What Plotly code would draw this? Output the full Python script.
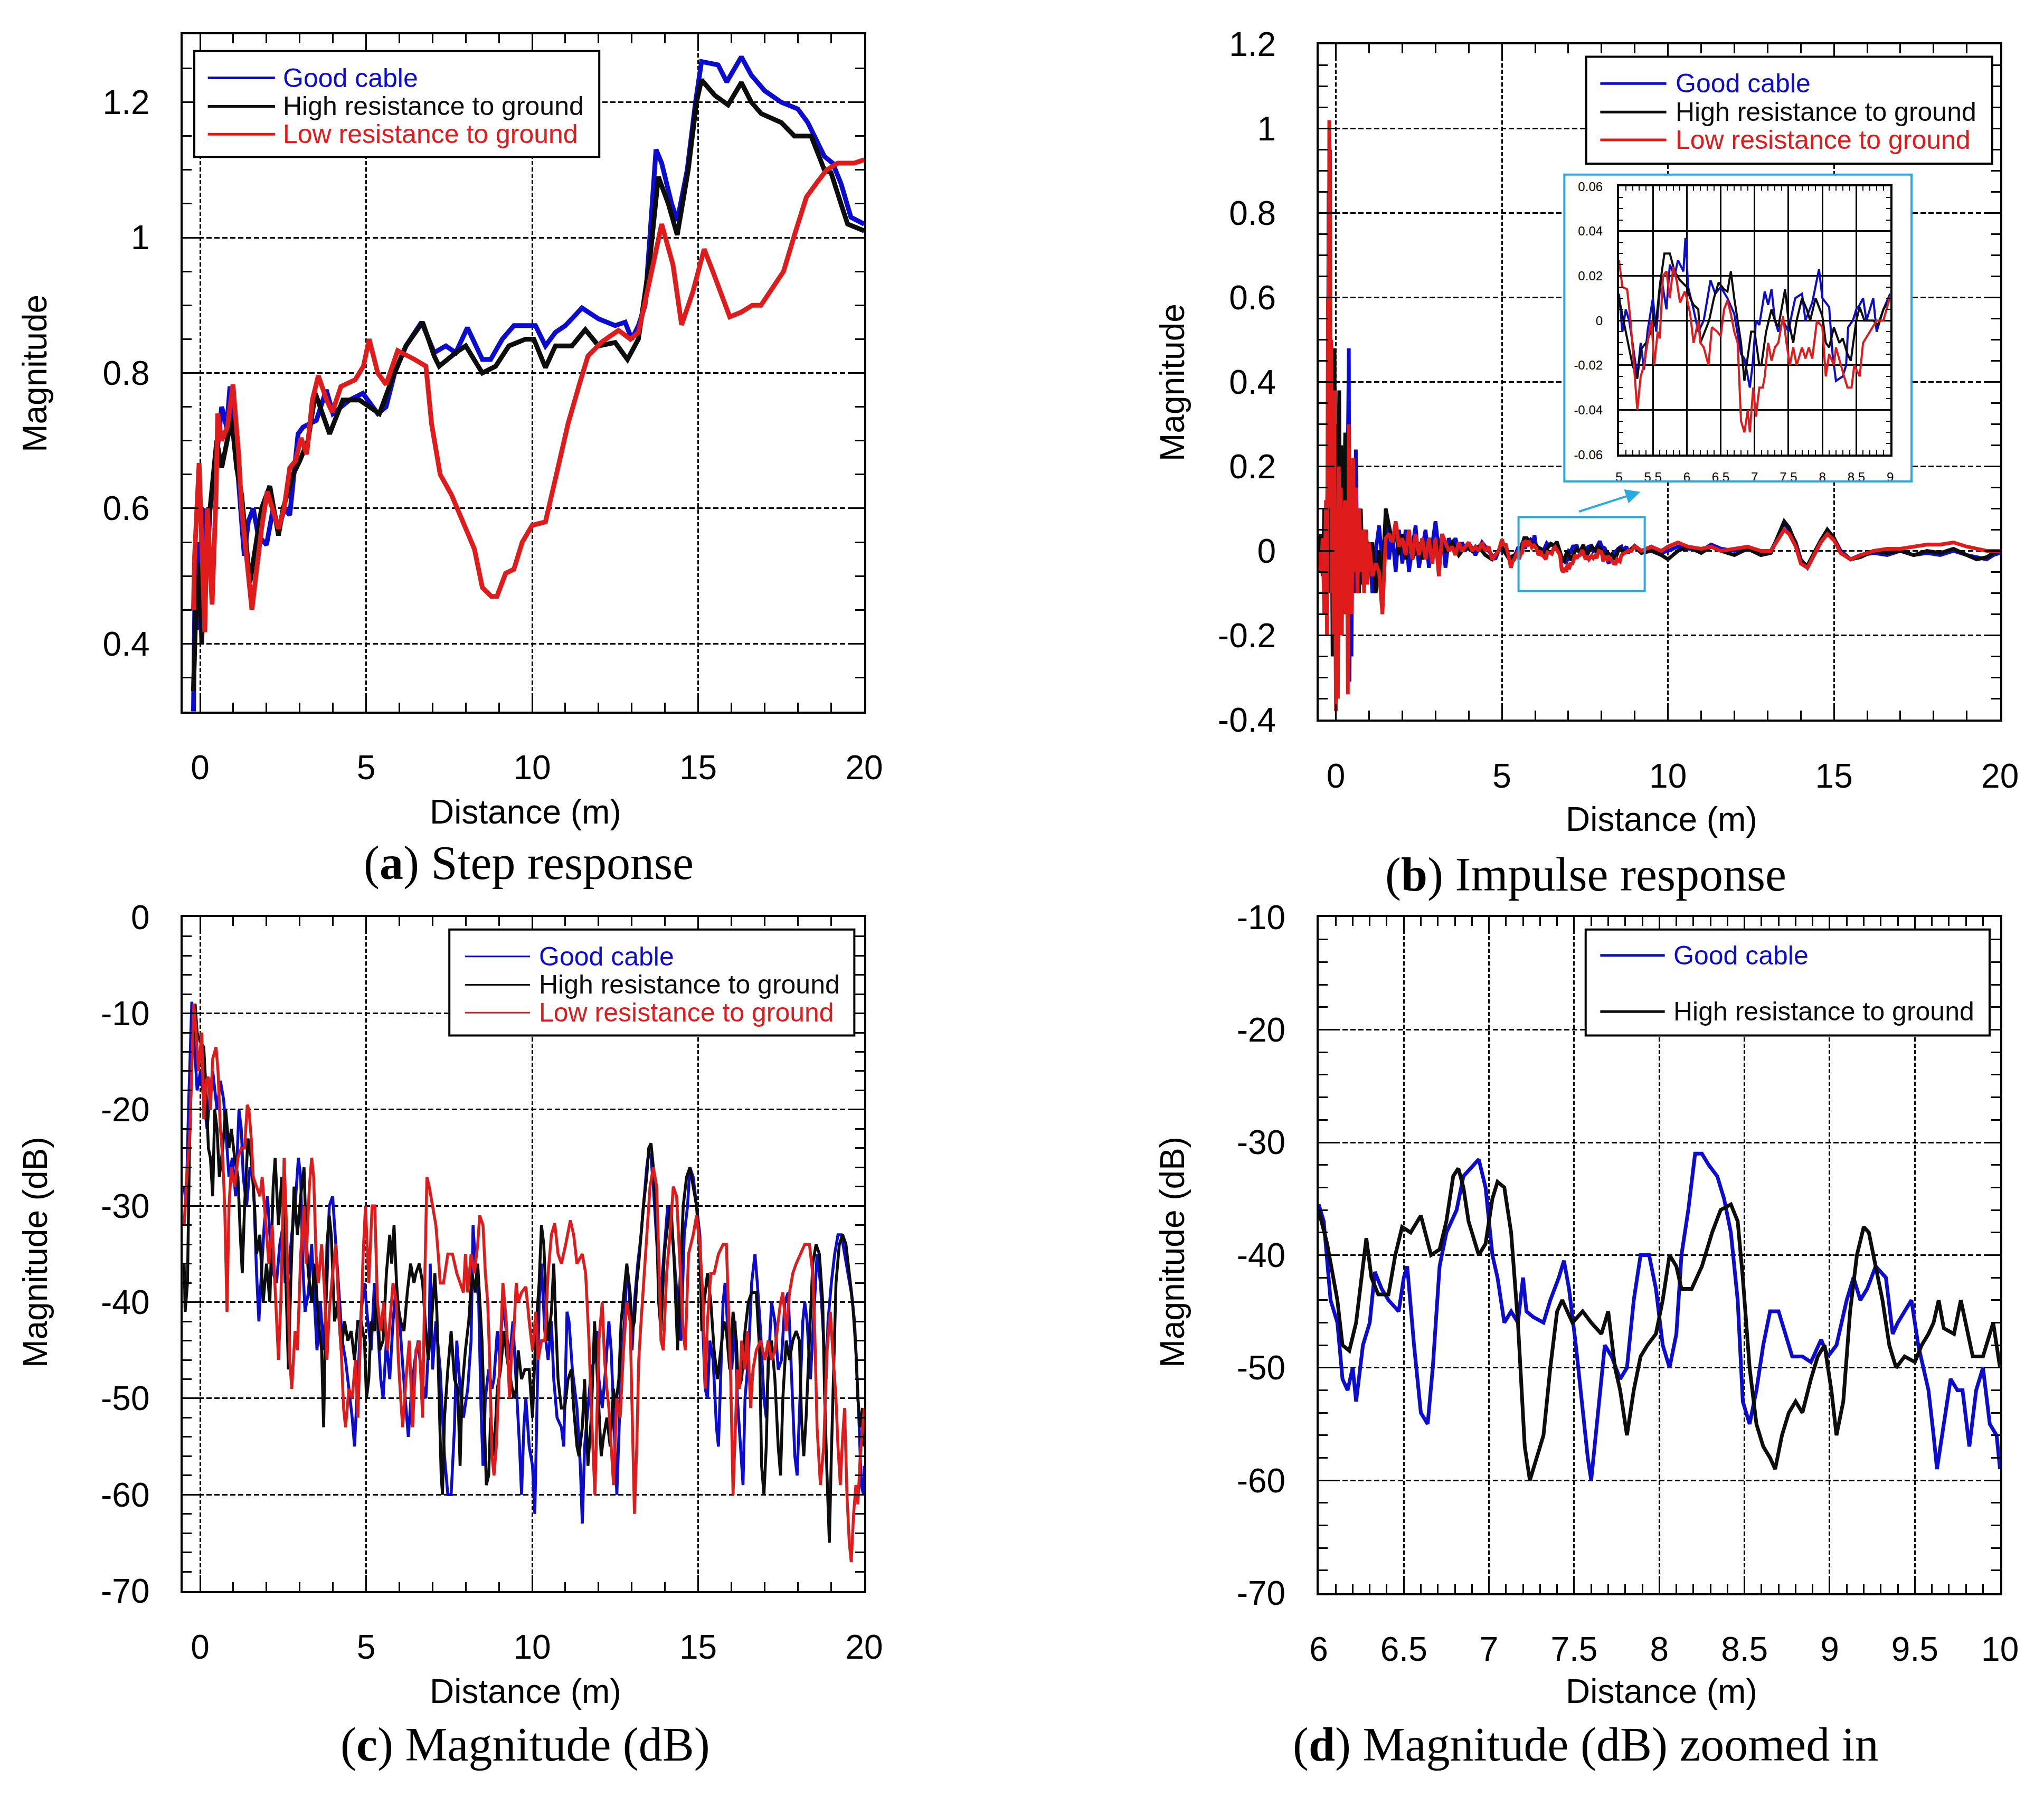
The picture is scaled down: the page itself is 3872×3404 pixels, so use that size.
import plotly.graph_objects as go

W, H = 3872, 3404

BLUE = "#0c0cd0"
BLACK = "#0d0d0d"
RED = "#e01b1b"
CYAN = "#29a9e1"
SANS = "Liberation Sans, Arial, sans-serif"
SERIF = "Liberation Serif, Times New Roman, serif"

NAMES = ["Good cable", "High resistance to ground", "Low resistance to ground"]

# ---------------- (a) step response ----------------
A_GOOD_X = [-0.2, -0.15, -0.1, -0.05, 0.0, 0.05, 0.1, 0.15, 0.2, 0.3,
            0.4, 0.55, 0.65, 0.8, 0.9, 1.0, 1.1, 1.2, 1.33, 1.45,
            1.6, 1.75, 2.0, 2.2, 2.35, 2.55, 2.7, 2.95, 3.1, 3.5,
            3.8, 4.0, 4.5, 4.9, 5.35, 5.6, 5.86, 6.2, 6.67, 7.05,
            7.4, 7.7, 8.05, 8.5, 8.75, 9.1, 9.45, 10.1, 10.4, 10.7,
            11.0, 11.5, 12.0, 12.5, 12.8, 13.0, 13.2, 13.4, 13.55, 13.73,
            13.9, 14.2, 14.37, 14.67, 14.92, 15.1, 15.6, 15.86, 16.3, 16.6,
            17.0, 17.5, 18.0, 18.3, 18.8, 19.05, 19.3, 19.6, 20.0]
A_GOOD_Y = [0.30, 0.50, 0.42, 0.55, 0.48, 0.56, 0.45, 0.60, 0.50, 0.60,
            0.63, 0.70, 0.75, 0.72, 0.78, 0.74, 0.68, 0.60, 0.53, 0.58,
            0.60, 0.56, 0.546, 0.60, 0.57, 0.60, 0.59, 0.71, 0.72, 0.73,
            0.775, 0.74, 0.76, 0.77, 0.74, 0.75, 0.80, 0.84, 0.875, 0.83,
            0.84, 0.83, 0.867, 0.82, 0.82, 0.85, 0.87, 0.87, 0.84, 0.86,
            0.87, 0.896, 0.88, 0.87, 0.875, 0.85, 0.87, 0.90, 1.00, 1.13,
            1.11, 1.05, 1.025, 1.10, 1.20, 1.26, 1.255, 1.23, 1.267, 1.24,
            1.217, 1.20, 1.19, 1.17, 1.12, 1.11, 1.08, 1.03, 1.02]

A_HIGH_X = [-0.2, -0.15, -0.1, -0.05, 0.0, 0.05, 0.1, 0.2, 0.35, 0.5,
            0.65, 0.8, 0.95, 1.1, 1.25, 1.5, 1.6, 1.85, 2.1, 2.36,
            2.5, 2.8, 3.0, 3.25, 3.47, 3.9, 4.3, 4.8, 5.4, 5.85,
            6.2, 6.7, 7.05, 7.2, 7.7, 8.0, 8.5, 8.9, 9.3, 9.8,
            10.05, 10.4, 10.7, 11.2, 11.6, 12.0, 12.5, 12.87, 13.2, 13.55,
            13.8, 14.1, 14.37, 14.7, 14.95, 15.1, 15.5, 15.9, 16.3, 16.6,
            16.9, 17.5, 17.9, 18.4, 18.8, 19.0, 19.3, 19.5, 20.0]
A_HIGH_Y = [0.33, 0.45, 0.50, 0.44, 0.52, 0.40, 0.50, 0.55, 0.62, 0.70,
            0.66, 0.70, 0.733, 0.66, 0.62, 0.49, 0.52, 0.60, 0.633, 0.56,
            0.60, 0.65, 0.67, 0.70, 0.77, 0.71, 0.76, 0.76, 0.74, 0.80,
            0.84, 0.875, 0.825, 0.81, 0.83, 0.84, 0.80, 0.81, 0.84, 0.85,
            0.85, 0.808, 0.84, 0.84, 0.864, 0.84, 0.845, 0.82, 0.85, 0.97,
            1.09, 1.05, 1.004, 1.10, 1.20, 1.233, 1.21, 1.196, 1.229, 1.20,
            1.183, 1.17, 1.15, 1.15, 1.10, 1.096, 1.05, 1.02, 1.01]

A_LOW_X = [-0.2, -0.17, -0.03, 0.14, 0.22, 0.36, 0.48, 0.53, 0.65, 0.82,
           0.99, 1.16, 1.25, 1.56, 1.68, 1.85, 2.02, 2.19, 2.36, 2.53,
           2.7, 2.87, 3.04, 3.21, 3.38, 3.56, 3.81, 3.98, 4.24, 4.67,
           4.92, 5.09, 5.35, 5.6, 5.95, 6.46, 6.8, 6.97, 7.23, 7.57,
           7.9, 8.26, 8.5, 8.77, 8.94, 9.2, 9.45, 9.7, 10.0, 10.4,
           10.73, 11.08, 11.42, 11.68, 12.1, 12.6, 12.96, 13.2, 13.38, 13.9,
           14.24, 14.5, 14.84, 15.18, 15.44, 15.95, 16.3, 16.63, 16.89, 17.15,
           17.57, 17.9, 18.26, 18.6, 18.87, 19.2, 19.7, 20.0]
A_LOW_Y = [0.45, 0.525, 0.667, 0.417, 0.60, 0.458, 0.62, 0.74, 0.70, 0.72,
           0.783, 0.68, 0.60, 0.45, 0.50, 0.57, 0.625, 0.60, 0.57, 0.60,
           0.66, 0.67, 0.704, 0.68, 0.76, 0.796, 0.76, 0.742, 0.78, 0.79,
           0.81, 0.85, 0.80, 0.783, 0.833, 0.82, 0.81, 0.725, 0.65, 0.62,
           0.583, 0.54, 0.483, 0.47, 0.47, 0.504, 0.51, 0.55, 0.575, 0.58,
           0.65, 0.725, 0.783, 0.825, 0.846, 0.863, 0.85, 0.86, 0.90, 1.02,
           0.96, 0.871, 0.92, 0.983, 0.95, 0.883, 0.89, 0.90, 0.90, 0.92,
           0.95, 1.004, 1.06, 1.083, 1.10, 1.11, 1.11, 1.115]

# ---------------- (b) impulse response ----------------
B_GOOD_EARLY_X = [-0.5, -0.45, -0.4, -0.35, -0.3, -0.25, -0.22, -0.2, -0.18, -0.16,
                  -0.14, -0.1, -0.07, -0.04, 0.0, 0.03, 0.06, 0.1, 0.13, 0.16,
                  0.2, 0.24, 0.28, 0.32, 0.36, 0.39, 0.41, 0.44, 0.47, 0.5,
                  0.55, 0.6, 0.65, 0.7, 0.75, 0.8, 0.9, 1.0, 1.1, 1.2,
                  1.3, 1.4, 1.5, 1.6, 1.7, 1.8, 1.9, 2.0, 2.1, 2.2,
                  2.4, 2.5, 2.7, 2.8, 3.0, 3.1, 3.2, 3.3, 3.4, 3.5,
                  3.6, 3.7, 3.8, 3.9, 4.0, 4.2, 4.4, 4.6, 4.8, 4.9]
B_GOOD_EARLY_Y = [0.0, -0.03, 0.02, -0.1, 0.1, -0.05, 0.85, 0.3, 0.95, 0.0,
                  0.3, -0.1, 0.15, -0.2, 0.2, -0.25, 0.1, -0.1, 0.15, -0.15,
                  0.1, -0.1, 0.12, -0.05, 0.2, 0.48, -0.31, 0.1, -0.25, 0.15,
                  -0.1, 0.24, -0.05, 0.1, -0.08, 0.05, -0.03, 0.02, -0.1, 0.0,
                  0.06, -0.03, 0.07, -0.02, 0.04, -0.05, 0.05, -0.03, 0.05, -0.05,
                  0.06, -0.04, 0.05, -0.04, 0.07, 0.0, 0.04, -0.04, 0.03, 0.01,
                  0.03, 0.0, 0.02, 0.0, 0.02, -0.01, 0.02, 0.0, -0.02, 0.0]

B_HIGH_EARLY_X = [-0.5, -0.45, -0.4, -0.35, -0.3, -0.25, -0.22, -0.2, -0.17, -0.14,
                  -0.1, -0.07, -0.04, -0.02, 0.0, 0.03, 0.06, 0.1, 0.13, 0.16,
                  0.2, 0.24, 0.28, 0.32, 0.36, 0.4, 0.45, 0.5, 0.55, 0.6,
                  0.65, 0.7, 0.75, 0.8, 0.9, 1.0, 1.1, 1.2, 1.3, 1.4,
                  1.5, 1.6, 1.7, 1.8, 1.9, 2.0, 2.1, 2.2, 2.3, 2.5,
                  2.6, 2.8, 3.0, 3.1, 3.3, 3.5, 3.7, 3.9, 4.1, 4.3,
                  4.5, 4.7, 4.9]
B_HIGH_EARLY_Y = [0.0, 0.04, -0.06, 0.1, -0.15, 0.2, 0.05, 0.4, -0.1, 0.3,
                  -0.25, 0.2, 0.48, -0.1, 0.3, -0.2, 0.2, 0.38, -0.1, 0.25,
                  -0.15, 0.1, 0.28, -0.05, 0.2, -0.1, 0.2, -0.1, 0.15, -0.05,
                  0.07, -0.1, 0.1, -0.03, 0.05, -0.05, 0.02, -0.1, 0.0, -0.08,
                  0.1, 0.06, 0.02, 0.05, -0.01, 0.04, -0.02, 0.04, -0.02, 0.02,
                  -0.02, 0.03, -0.01, 0.02, 0.0, 0.02, -0.01, 0.01, 0.0, 0.01,
                  -0.01, -0.02, 0.0]

B_LOW_EARLY_X = [-0.5, -0.45, -0.4, -0.35, -0.3, -0.27, -0.24, -0.22, -0.2, -0.18,
                 -0.16, -0.14, -0.12, -0.1, -0.07, -0.05, -0.02, 0.0, 0.03, 0.06,
                 0.09, 0.12, 0.15, 0.18, 0.21, 0.24, 0.27, 0.3, 0.33, 0.36,
                 0.39, 0.42, 0.45, 0.48, 0.52, 0.56, 0.6, 0.65, 0.7, 0.75,
                 0.8, 0.85, 0.9, 0.95, 1.0, 1.1, 1.2, 1.3, 1.4, 1.5,
                 1.6, 1.7, 1.8, 1.9, 2.0, 2.1, 2.2, 2.3, 2.4, 2.5,
                 2.6, 2.7, 2.8, 2.9, 3.0, 3.1, 3.2, 3.3, 3.4, 3.5,
                 3.6, 3.7, 3.8, 3.9, 4.0, 4.1, 4.2, 4.3, 4.4, 4.5,
                 4.6, 4.7, 4.8, 4.9]
B_LOW_EARLY_Y = [0.0, -0.05, 0.03, -0.15, 0.12, -0.2, 0.6, 0.2, 1.02, 0.9,
                 0.1, 0.5, -0.1, 0.2, -0.2, 0.38, -0.1, -0.38, 0.1, -0.35,
                 0.2, -0.1, 0.15, -0.2, 0.1, -0.05, 0.12, -0.15, 0.05, -0.34,
                 0.3, 0.0, 0.2, -0.15, 0.22, -0.05, 0.15, -0.1, 0.1, -0.05,
                 0.05, -0.1, 0.05, -0.08, 0.02, -0.06, -0.03, -0.05, -0.15, 0.03,
                 0.04, 0.02, 0.07, 0.01, 0.03, -0.01, 0.05, -0.02, 0.04, -0.01,
                 0.03, -0.02, 0.03, -0.03, 0.03, -0.06, 0.04, 0.02, 0.0, 0.01,
                 -0.01, 0.02, 0.0, 0.01, 0.02, 0.0, 0.01, 0.0, 0.02, 0.0,
                 0.01, -0.02, -0.01, 0.0]

# 5 m to 9 m, shared by the main plot (b) and its inset
INSET_GOOD_X = [5.0, 5.05, 5.1, 5.15, 5.2, 5.27, 5.32, 5.37, 5.42, 5.5,
                5.55, 5.62, 5.7, 5.75, 5.82, 5.87, 5.95, 5.98, 6.02, 6.1,
                6.17, 6.25, 6.35, 6.42, 6.5, 6.6, 6.7, 6.8, 6.85, 6.93,
                6.97, 7.02, 7.07, 7.15, 7.2, 7.25, 7.3, 7.35, 7.42, 7.5,
                7.55, 7.6, 7.7, 7.75, 7.85, 7.95, 8.0, 8.1, 8.15, 8.2,
                8.3, 8.35, 8.38, 8.45, 8.5, 8.55, 8.6, 8.65, 8.75, 8.8,
                8.9, 9.0]
INSET_GOOD_Y = [0.012, -0.005, 0.005, 0.0, -0.01, -0.025, -0.01, -0.022, -0.005, 0.01,
                -0.005, 0.02, 0.005, 0.025, 0.02, 0.027, 0.022, 0.037, 0.015, 0.005,
                -0.005, 0.0, 0.018, 0.012, 0.015, 0.01, 0.003, -0.015, -0.017, -0.03,
                -0.02, 0.0, -0.002, 0.013, 0.007, 0.014, 0.0, -0.005, 0.0, -0.005,
                0.003, 0.01, 0.012, 0.0, 0.008, 0.023, 0.01, 0.006, -0.015, -0.027,
                -0.025, -0.02, -0.003, 0.0, 0.005, 0.007, 0.01, 0.0, 0.01, -0.005,
                0.005, 0.012]

INSET_HIGH_X = [5.0, 5.1, 5.2, 5.27, 5.32, 5.4, 5.47, 5.55, 5.6, 5.67,
                5.75, 5.82, 5.9, 6.0, 6.05, 6.1, 6.17, 6.2, 6.33, 6.4,
                6.47, 6.55, 6.6, 6.65, 6.7, 6.75, 6.8, 6.85, 6.88, 6.95,
                7.0, 7.07, 7.1, 7.17, 7.25, 7.3, 7.35, 7.45, 7.5, 7.57,
                7.62, 7.7, 7.77, 7.82, 7.9, 8.0, 8.05, 8.1, 8.17, 8.25,
                8.3, 8.37, 8.42, 8.5, 8.55, 8.62, 8.75, 8.82, 8.9, 9.0]
INSET_HIGH_Y = [0.01, -0.005, -0.02, -0.026, -0.013, -0.01, -0.005, 0.0, 0.015, 0.03,
                0.03, 0.022, 0.018, 0.015, 0.01, 0.007, 0.005, -0.01, 0.0, 0.01,
                0.017, 0.014, 0.013, 0.022, 0.01, 0.0, -0.01, -0.027, -0.02, -0.005,
                -0.005, -0.02, -0.02, -0.005, 0.005, 0.0, -0.003, 0.014, 0.0, -0.01,
                0.0, 0.01, 0.005, 0.0, 0.01, 0.002, -0.01, -0.012, -0.003, -0.01,
                -0.008, -0.015, -0.018, 0.0, 0.006, 0.0, 0.0, -0.002, 0.005, 0.01]

INSET_LOW_X = [5.0, 5.05, 5.12, 5.17, 5.22, 5.27, 5.32, 5.37, 5.42, 5.48,
               5.52, 5.57, 5.6, 5.65, 5.7, 5.75, 5.8, 5.85, 5.9, 5.97,
               6.0, 6.05, 6.1, 6.17, 6.2, 6.25, 6.32, 6.37, 6.45, 6.5,
               6.55, 6.6, 6.65, 6.7, 6.75, 6.8, 6.85, 6.9, 6.93, 6.98,
               7.02, 7.07, 7.12, 7.15, 7.2, 7.25, 7.3, 7.35, 7.42, 7.47,
               7.52, 7.57, 7.62, 7.7, 7.75, 7.8, 7.85, 7.92, 8.0, 8.05,
               8.1, 8.17, 8.2, 8.27, 8.32, 8.37, 8.43, 8.47, 8.55, 8.6,
               8.7, 8.8, 8.9, 9.0]
INSET_LOW_Y = [0.027, 0.015, 0.014, 0.0, -0.02, -0.04, -0.025, -0.02, -0.01, 0.0,
               -0.02, -0.005, -0.008, 0.02, 0.022, 0.01, 0.024, 0.018, 0.008, 0.013,
               0.01, 0.003, -0.01, 0.0, -0.01, -0.012, -0.02, -0.003, -0.005, -0.007,
               0.005, 0.009, 0.003, -0.005, -0.01, -0.045, -0.05, -0.04, -0.05, -0.03,
               -0.043, -0.03, -0.03, -0.025, -0.01, -0.018, -0.012, -0.01, 0.002, -0.01,
               -0.02, -0.012, -0.02, -0.012, -0.017, -0.012, -0.017, 0.0, -0.003, -0.025,
               -0.015, -0.02, -0.012, -0.02, -0.025, -0.03, -0.03, -0.02, -0.025, -0.01,
               -0.005, 0.0, 0.0, 0.011]

B_LATE_X = [9.2, 9.5, 9.8, 10.0, 10.3, 10.6, 11.0, 11.3, 11.6, 12.0,
            12.4, 12.8, 13.1, 13.3, 13.5, 13.65, 13.85, 14.0, 14.2, 14.4,
            14.6, 14.8, 15.0, 15.2, 15.5, 15.8, 16.2, 16.6, 17.0, 17.4,
            17.8, 18.2, 18.6, 19.0, 19.3, 19.6, 19.8, 20.0]
B_GOOD_LATE_Y = [0.0, 0.01, -0.005, 0.0, 0.01, 0.005, 0.0, 0.015, 0.005, 0.0,
                 0.01, -0.005, 0.0, 0.03, 0.065, 0.05, 0.02, -0.02, -0.04, -0.01,
                 0.02, 0.05, 0.03, 0.0, -0.02, -0.01, -0.005, -0.01, 0.0, -0.01,
                 -0.005, -0.01, 0.0, -0.01, -0.015, -0.02, -0.01, -0.005]
B_HIGH_LATE_Y = [-0.005, 0.0, -0.01, -0.02, 0.0, 0.01, -0.005, 0.01, 0.0, -0.01,
                 0.005, -0.01, -0.005, 0.03, 0.07, 0.055, 0.015, -0.025, -0.035, -0.005,
                 0.025, 0.05, 0.03, -0.005, -0.02, -0.015, 0.0, -0.005, 0.0, -0.01,
                 0.0, -0.005, 0.005, -0.01, -0.02, -0.015, -0.005, 0.0]
B_LOW_LATE_Y = [0.0, 0.01, 0.0, 0.01, 0.02, 0.01, 0.005, 0.01, 0.0, 0.005,
                0.01, 0.0, 0.0, 0.025, 0.05, 0.04, 0.01, -0.03, -0.04, -0.01,
                0.02, 0.04, 0.025, -0.005, -0.02, -0.01, 0.0, 0.005, 0.005, 0.01,
                0.015, 0.015, 0.02, 0.01, 0.005, 0.0, 0.0, 0.0]

# ---------------- (c) magnitude in dB ----------------
C_GOOD_X = [-0.48, -0.42, -0.35, -0.25, -0.19, -0.09, 0.01, 0.11, 0.21, 0.31,
            0.38, 0.51, 0.61, 0.71, 0.81, 0.87, 0.97, 1.07, 1.17, 1.24,
            1.3, 1.4, 1.5, 1.6, 1.7, 1.77, 1.83, 1.93, 2.03, 2.1,
            2.2, 2.3, 2.4, 2.5, 2.56, 2.66, 2.76, 2.86, 2.96, 3.03,
            3.09, 3.16, 3.26, 3.36, 3.46, 3.52, 3.62, 3.72, 3.82, 3.89,
            3.99, 4.09, 4.19, 4.28, 4.38, 4.48, 4.58, 4.65, 4.75, 4.85,
            4.95, 5.05, 5.15, 5.25, 5.34, 5.44, 5.51, 5.61, 5.71, 5.81,
            5.91, 6.01, 6.11, 6.21, 6.27, 6.37, 6.47, 6.57, 6.67, 6.8,
            6.9, 6.93, 7.0, 7.1, 7.23, 7.36, 7.46, 7.56, 7.66, 7.73,
            7.83, 7.93, 8.06, 8.16, 8.22, 8.29, 8.39, 8.46, 8.52, 8.59,
            8.69, 8.79, 8.85, 8.95, 9.02, 9.12, 9.22, 9.32, 9.42, 9.52,
            9.62, 9.68, 9.75, 9.81, 9.91, 10.01, 10.08, 10.15, 10.21, 10.28,
            10.38, 10.48, 10.58, 10.65, 10.75, 10.88, 10.95, 11.05, 11.11, 11.21,
            11.35, 11.45, 11.51, 11.58, 11.68, 11.78, 11.88, 11.95, 12.01, 12.11,
            12.21, 12.31, 12.38, 12.48, 12.55, 12.61, 12.68, 12.78, 12.85, 12.91,
            13.01, 13.08, 13.18, 13.28, 13.38, 13.45, 13.51, 13.58, 13.65, 13.75,
            13.81, 13.88, 13.98, 14.08, 14.18, 14.25, 14.31, 14.41, 14.48, 14.58,
            14.68, 14.75, 14.85, 14.95, 15.05, 15.11, 15.21, 15.28, 15.35, 15.45,
            15.55, 15.61, 15.68, 15.75, 15.81, 15.91, 16.01, 16.11, 16.18, 16.28,
            16.35, 16.41, 16.51, 16.61, 16.71, 16.78, 16.88, 16.98, 17.05, 17.11,
            17.21, 17.31, 17.41, 17.51, 17.61, 17.71, 17.81, 17.91, 17.98, 18.05,
            18.15, 18.21, 18.28, 18.38, 18.48, 18.58, 18.68, 18.78, 18.85, 18.91,
            19.01, 19.11, 19.21, 19.31, 19.41, 19.51, 19.61, 19.71, 19.78, 19.85,
            19.91, 19.98, 20.0]
C_GOOD_Y = [-28, -30, -20, -8.8, -12, -18, -16, -19, -22, -18,
            -16, -20, -17, -19, -24, -27, -25, -29, -20, -22,
            -27, -30, -26, -27, -37, -42, -38, -32, -29, -33,
            -37, -38, -34, -32, -38, -37, -33, -30, -25, -27,
            -36, -41, -39, -34, -41, -45, -40, -45, -38, -30,
            -29, -34, -40, -44, -46, -49, -52, -55, -48, -41,
            -38, -42, -45, -38, -42, -48, -50, -44, -48, -42,
            -38, -42, -47, -52, -54, -49, -46, -44, -48, -50,
            -43, -36, -47, -42, -47, -56, -60, -60, -53, -44,
            -49, -52, -49, -44, -32, -36, -40, -51, -57, -50,
            -47, -49, -48, -43, -46, -40, -43, -46, -42, -48,
            -55, -60, -53, -50, -55, -57, -62, -50, -40, -36,
            -43, -46, -42, -48, -52, -53, -55, -41, -42, -47,
            -51, -57, -63, -55, -51, -47, -46, -43, -48, -51,
            -47, -42, -45, -55, -60, -54, -47, -42, -37, -38,
            -45, -40, -36, -33, -29, -26, -24.5, -25, -28, -33,
            -37, -39, -34, -30, -32, -34, -37, -41, -44, -33,
            -30, -26, -27, -30, -33, -40, -49, -50, -44, -46,
            -53, -55, -48, -40, -38, -44, -47, -42, -50, -56,
            -59, -50, -46, -38, -35, -38, -43, -50, -52, -47,
            -40, -42, -47, -46, -40, -39, -48, -56, -58, -52,
            -42, -40, -42, -48, -41, -35, -38, -44, -48, -42,
            -38, -35, -33, -33, -35, -37, -39, -42, -47, -53,
            -59, -60, -57]

C_HIGH_X = [-0.48, -0.45, -0.38, -0.32, -0.25, -0.15, -0.09, 0.01, 0.11, 0.18,
            0.25, 0.31, 0.38, 0.44, 0.51, 0.58, 0.68, 0.77, 0.87, 0.94,
            1.04, 1.14, 1.21, 1.27, 1.34, 1.44, 1.54, 1.64, 1.7, 1.8,
            1.9, 2.0, 2.1, 2.2, 2.26, 2.36, 2.46, 2.56, 2.66, 2.73,
            2.83, 2.93, 3.03, 3.13, 3.19, 3.26, 3.36, 3.46, 3.56, 3.66,
            3.72, 3.82, 3.89, 3.95, 4.05, 4.15, 4.25, 4.35, 4.45, 4.55,
            4.65, 4.75, 4.85, 4.95, 5.01, 5.08, 5.15, 5.25, 5.31, 5.41,
            5.51, 5.61, 5.71, 5.77, 5.84, 5.94, 6.04, 6.14, 6.24, 6.34,
            6.44, 6.5, 6.6, 6.7, 6.8, 6.87, 6.97, 7.07, 7.13, 7.2,
            7.26, 7.3, 7.36, 7.46, 7.56, 7.66, 7.76, 7.83, 7.89, 7.99,
            8.09, 8.19, 8.29, 8.36, 8.42, 8.49, 8.55, 8.62, 8.69, 8.75,
            8.85, 8.95, 9.05, 9.15, 9.25, 9.34, 9.45, 9.52, 9.58, 9.68,
            9.78, 9.91, 10.01, 10.11, 10.21, 10.28, 10.35, 10.41, 10.48, 10.58,
            10.65, 10.71, 10.78, 10.88, 10.98, 11.08, 11.18, 11.25, 11.35, 11.41,
            11.51, 11.58, 11.68, 11.78, 11.88, 11.98, 12.08, 12.15, 12.25, 12.35,
            12.45, 12.51, 12.61, 12.68, 12.78, 12.85, 12.95, 13.01, 13.08, 13.15,
            13.21, 13.28, 13.35, 13.45, 13.51, 13.58, 13.65, 13.75, 13.81, 13.88,
            13.98, 14.08, 14.18, 14.28, 14.38, 14.45, 14.55, 14.65, 14.75, 14.85,
            14.95, 15.05, 15.11, 15.18, 15.28, 15.38, 15.48, 15.58, 15.68, 15.78,
            15.85, 15.95, 16.05, 16.15, 16.21, 16.31, 16.41, 16.51, 16.61, 16.75,
            16.85, 16.91, 16.98, 17.05, 17.11, 17.21, 17.31, 17.41, 17.48, 17.55,
            17.65, 17.75, 17.85, 17.95, 18.05, 18.11, 18.18, 18.25, 18.35, 18.45,
            18.55, 18.65, 18.75, 18.81, 18.88, 18.95, 19.01, 19.08, 19.15, 19.25,
            19.35, 19.45, 19.55, 19.65, 19.75, 19.81, 19.88, 19.95, 20.0]
C_HIGH_Y = [-36, -41, -38, -24, -15, -9, -12, -13, -13.5, -18,
            -24, -25, -29, -20, -22, -27, -24, -20, -24, -22,
            -25, -27, -33, -37, -30, -23, -25, -30, -35, -33,
            -40, -36, -40, -28, -25, -32, -27, -35, -47, -38,
            -28, -33, -29, -26, -33, -37, -40, -36, -42, -45,
            -53, -34, -31, -33, -42, -40, -45, -42, -44, -43,
            -46, -42, -42, -44, -50, -48, -42, -43, -38, -45,
            -44, -37, -33, -36, -32, -40, -42, -43, -39, -36,
            -38, -37, -36, -38, -43, -46, -42, -37, -41, -50,
            -58, -60, -52, -47, -43, -48, -49, -57, -49, -45,
            -42, -37, -39, -36, -40, -44, -51, -59, -58, -52,
            -56, -49, -47, -43, -46, -48, -50, -49, -45, -48,
            -47, -47, -52, -43, -38, -32, -34, -39, -44, -41,
            -36, -42, -48, -51, -51, -48, -47, -51, -55, -56,
            -53, -48, -57, -52, -42, -49, -56, -54, -52, -55,
            -49, -51, -48, -42, -38, -36, -39, -43, -42, -38,
            -36, -33, -30, -27, -24, -23.5, -26, -32, -40, -43,
            -35, -32, -30, -36, -45, -38, -30, -27, -26, -28,
            -30, -35, -43, -40, -37, -40, -45, -48, -45, -42,
            -43, -47, -41, -44, -49, -48, -43, -40, -39, -39,
            -45, -57, -60, -55, -46, -44, -48, -55, -58, -50,
            -44, -46, -44, -43, -44, -52, -56, -52, -44, -36,
            -34, -35, -40, -50, -58, -65, -56, -46, -38, -34,
            -33, -34, -37, -40, -45, -50, -53, -51, -55]

C_LOW_X = [-0.48, -0.42, -0.32, -0.25, -0.19, -0.12, -0.05, 0.05, 0.11, 0.18,
           0.25, 0.31, 0.38, 0.48, 0.54, 0.61, 0.68, 0.74, 0.81, 0.87,
           0.94, 1.04, 1.14, 1.24, 1.34, 1.42, 1.47, 1.54, 1.6, 1.7,
           1.8, 1.87, 1.97, 2.07, 2.17, 2.26, 2.36, 2.43, 2.53, 2.6,
           2.7, 2.76, 2.86, 2.93, 3.03, 3.13, 3.19, 3.29, 3.36, 3.42,
           3.49, 3.56, 3.66, 3.75, 3.82, 3.89, 3.99, 4.09, 4.19, 4.25,
           4.32, 4.38, 4.48, 4.58, 4.68, 4.75, 4.85, 4.91, 4.98, 5.08,
           5.18, 5.26, 5.34, 5.44, 5.53, 5.64, 5.74, 5.81, 5.91, 5.97,
           6.04, 6.1, 6.2, 6.3, 6.4, 6.5, 6.6, 6.7, 6.77, 6.83,
           6.9, 7.0, 7.1, 7.17, 7.23, 7.33, 7.46, 7.6, 7.73, 7.83,
           7.93, 7.99, 8.06, 8.16, 8.26, 8.36, 8.42, 8.52, 8.59, 8.66,
           8.72, 8.79, 8.85, 8.92, 8.99, 9.05, 9.12, 9.22, 9.32, 9.38,
           9.45, 9.52, 9.58, 9.68, 9.81, 9.91, 10.01, 10.11, 10.18, 10.28,
           10.38, 10.48, 10.58, 10.68, 10.78, 10.88, 11.01, 11.15, 11.25, 11.35,
           11.51, 11.61, 11.71, 11.78, 11.85, 11.89, 11.95, 12.01, 12.11, 12.18,
           12.25, 12.31, 12.38, 12.45, 12.55, 12.65, 12.75, 12.85, 12.95, 13.01,
           13.08, 13.15, 13.21, 13.28, 13.38, 13.48, 13.55, 13.65, 13.75, 13.81,
           13.88, 13.95, 14.05, 14.15, 14.25, 14.35, 14.45, 14.55, 14.61, 14.71,
           14.85, 14.95, 15.05, 15.15, 15.21, 15.28, 15.38, 15.48, 15.61, 15.75,
           15.85, 15.91, 15.98, 16.05, 16.11, 16.18, 16.25, 16.31, 16.41, 16.48,
           16.58, 16.65, 16.75, 16.88, 17.01, 17.11, 17.21, 17.31, 17.41, 17.48,
           17.55, 17.65, 17.75, 17.85, 17.95, 18.08, 18.21, 18.35, 18.45, 18.51,
           18.58, 18.68, 18.78, 18.88, 18.98, 19.05, 19.15, 19.21, 19.28, 19.35,
           19.41, 19.48, 19.55, 19.61, 19.68, 19.75, 19.81, 19.88, 19.95, 20.0]
C_LOW_Y = [-32, -28, -23, -15, -9, -12, -16, -12, -21, -17,
           -16.6, -20, -14.7, -13.5, -16, -22, -25, -30, -41, -30,
           -26, -28, -25, -24, -24, -19.5, -20, -23, -27, -28,
           -29, -27, -32, -36, -32, -38, -46, -40, -25, -32,
           -46, -49, -43, -45, -35, -30, -36, -28, -25, -27,
           -35, -38, -34, -39, -46, -41, -37, -34, -42, -45,
           -51, -53, -49, -50, -46, -52, -40, -35, -30, -38,
           -30, -30, -40, -43, -40, -45, -41, -38, -40, -46,
           -50, -53, -48, -44, -53, -45, -44, -52, -37, -27,
           -28, -30, -32, -35, -38, -38, -35, -35, -37, -38,
           -39, -35, -39, -35, -37, -34, -31, -32, -37, -40,
           -46, -56, -58, -55, -49, -44, -38, -42, -50, -45,
           -43, -38, -40, -39, -38.4, -42, -45, -41, -46, -44,
           -44, -37, -33, -31.8, -35, -36, -34, -31.5, -33, -36,
           -35, -37, -44, -51, -58, -60, -52, -44, -40, -46,
           -49, -51, -55, -59, -50, -52, -45, -40, -42, -52,
           -62, -55, -46, -42, -37, -31, -28, -26, -28, -35,
           -44, -45, -37, -33, -28, -29, -36, -43, -45, -35,
           -33, -31, -34, -40, -49, -42, -37, -37, -35, -34,
           -34, -40, -48, -60, -54, -47, -49, -44, -47, -43,
           -51, -47, -45, -44, -46, -44, -46, -45, -42, -40,
           -39, -43, -39, -37, -36, -35, -34, -34, -37, -43,
           -53, -59, -55, -45, -41, -45, -50, -55, -59, -54,
           -51, -60, -65, -67, -62, -59, -61, -56, -53, -51]

# ---------------- (d) magnitude in dB, 6 m to 10 m ----------------
D_GOOD_X = [6.0, 6.03, 6.07, 6.11, 6.14, 6.17, 6.2, 6.22, 6.26, 6.3,
            6.33, 6.37, 6.41, 6.47, 6.5, 6.52, 6.56, 6.6, 6.64, 6.67,
            6.71, 6.75, 6.81, 6.85, 6.88, 6.94, 6.98, 7.02, 7.05, 7.09,
            7.13, 7.17, 7.2, 7.22, 7.26, 7.32, 7.36, 7.41, 7.44, 7.47,
            7.51, 7.55, 7.58, 7.6, 7.64, 7.68, 7.72, 7.77, 7.81, 7.85,
            7.89, 7.94, 7.98, 8.02, 8.06, 8.1, 8.13, 8.17, 8.21, 8.25,
            8.29, 8.34, 8.38, 8.42, 8.46, 8.49, 8.53, 8.57, 8.61, 8.65,
            8.7, 8.74, 8.78, 8.84, 8.89, 8.95, 8.99, 9.04, 9.1, 9.14,
            9.18, 9.22, 9.27, 9.33, 9.37, 9.4, 9.44, 9.48, 9.52, 9.58,
            9.61, 9.63, 9.67, 9.71, 9.75, 9.78, 9.82, 9.86, 9.9, 9.94,
            9.98, 10.0]
D_GOOD_Y = [-35.5, -37, -44, -46, -51, -52, -50, -53, -48, -46,
            -41.5, -43, -44, -45, -42, -41, -48, -54, -55, -50,
            -41, -38, -36, -33, -32.5, -31.5, -34, -40, -42, -46,
            -45, -46, -42, -45, -45.5, -46, -44, -42, -40.5, -43,
            -48, -54, -58, -60, -54, -48, -49, -51, -50, -44,
            -40, -40, -43, -48, -50, -47, -40, -36, -31, -31,
            -32, -33, -35, -38, -44, -53, -55, -52, -48, -45,
            -45, -47, -49, -49, -49.5, -47.5, -49, -48, -44, -42,
            -44, -43, -41, -42, -47, -46, -45, -44, -48, -52,
            -56, -59, -55, -51, -52, -52, -57, -52, -50, -55,
            -56, -59]

D_HIGH_X = [6.0, 6.05, 6.11, 6.14, 6.18, 6.22, 6.26, 6.28, 6.31, 6.35,
            6.41, 6.45, 6.49, 6.54, 6.6, 6.66, 6.71, 6.75, 6.79, 6.82,
            6.85, 6.88, 6.94, 6.98, 7.02, 7.05, 7.09, 7.13, 7.17, 7.21,
            7.24, 7.28, 7.32, 7.36, 7.4, 7.43, 7.49, 7.55, 7.6, 7.66,
            7.7, 7.74, 7.77, 7.81, 7.85, 7.89, 7.93, 7.98, 8.02, 8.06,
            8.1, 8.13, 8.19, 8.25, 8.31, 8.36, 8.42, 8.46, 8.49, 8.53,
            8.57, 8.61, 8.65, 8.68, 8.72, 8.76, 8.8, 8.84, 8.89, 8.93,
            8.97, 9.01, 9.04, 9.08, 9.12, 9.16, 9.2, 9.23, 9.27, 9.31,
            9.35, 9.39, 9.44, 9.5, 9.54, 9.58, 9.61, 9.64, 9.67, 9.73,
            9.77, 9.8, 9.84, 9.9, 9.94, 9.96, 10.0]
D_HIGH_Y = [-36, -39, -44, -48, -48.5, -46, -41, -38.5, -42, -43.5,
            -43.5, -40, -37.5, -38, -36.5, -40, -39.5, -37, -33, -32.3,
            -34, -37, -40, -39, -35, -33.5, -34, -38, -46, -57,
            -60, -58, -56, -50, -45, -44, -46, -45, -46, -47,
            -45, -50, -52, -56, -52, -49, -48, -47, -44, -40,
            -41, -43, -43, -41, -38, -36, -35.5, -37, -42, -50,
            -55, -57, -58, -59, -56, -54, -53, -54, -51, -49,
            -48, -52, -56, -53, -45, -40, -37.5, -38, -41, -44,
            -48, -50, -49, -49.5, -48, -47, -46, -44, -46.5, -47,
            -44, -46, -49, -49, -47, -46, -50]

# ---------------- tick labels ----------------
X_TICKS = [0, 5, 10, 15, 20]
X_TEXT = ["0", "5", "10", "15", "20"]
A_Y_TICKS = [0.4, 0.6, 0.8, 1.0, 1.2]
A_Y_TEXT = ["0.4", "0.6", "0.8", "1", "1.2"]
B_Y_TICKS = [-0.4, -0.2, 0, 0.2, 0.4, 0.6, 0.8, 1.0, 1.2]
B_Y_TEXT = ["-0.4", "-0.2", "0", "0.2", "0.4", "0.6", "0.8", "1", "1.2"]
C_Y_TICKS = [0, -10, -20, -30, -40, -50, -60, -70]
C_Y_TEXT = ["0", "-10", "-20", "-30", "-40", "-50", "-60", "-70"]
D_X_TICKS = [6, 6.5, 7, 7.5, 8, 8.5, 9, 9.5, 10]
D_X_TEXT = ["6", "6.5", "7", "7.5", "8", "8.5", "9", "9.5", "10"]
D_Y_TICKS = [-10, -20, -30, -40, -50, -60, -70]
D_Y_TEXT = ["-10", "-20", "-30", "-40", "-50", "-60", "-70"]
INSET_X_TICKS = [5, 5.5, 6, 6.5, 7, 7.5, 8, 8.5, 9]
INSET_X_TEXT = ["5", "5.5", "6", "6.5", "7", "7.5", "8", "8.5", "9"]
INSET_Y_TICKS = [-0.06, -0.04, -0.02, 0, 0.02, 0.04, 0.06]
INSET_Y_TEXT = ["-0.06", "-0.04", "-0.02", "0", "0.02", "0.04", "0.06"]

# zoom window marked on (b), and the arrow pointing at the inset
B_ZOOM_BOX = (5.5, 9.3, -0.095, 0.08)


def px(x):
    """Pixel column -> paper x."""
    return x / W


def py(y):
    """Pixel row -> paper y."""
    return 1 - y / H


def frame_axis(dom, rng, vals, text, minor, standoff, anchor, dash, size=64):
    """Boxed axis with inside ticks, minor ticks and a dashed grid."""
    big = size > 40
    return dict(
        domain=dom, range=rng, anchor=anchor,
        tickmode="array", tickvals=vals, ticktext=text,
        ticks="inside", ticklen=30 if big else 12, tickwidth=3, tickcolor="black",
        minor=dict(tick0=0, dtick=minor, ticks="inside", ticklen=17 if big else 8,
                   tickwidth=3 if big else 2, tickcolor="black", showgrid=False),
        showline=True, linewidth=4, linecolor="black", mirror="allticks",
        showgrid=True, gridcolor="black", gridwidth=3, griddash=dash,
        zeroline=False, ticklabelstandoff=standoff,
        tickfont=dict(family=SANS, size=size, color="black"),
    )


def add_lines(fig, xs, ys, colors, width, xa, ya):
    for x, y, c in zip(xs, ys, colors):
        fig.add_trace(go.Scatter(x=x, y=y, mode="lines", line=dict(color=c, width=width),
                                 xaxis=xa, yaxis=ya, showlegend=False, hoverinfo="skip"))


def add_legend(fig, box, line_x, text_x, rows, colors, names, width):
    """Framed legend drawn with shapes so each label keeps its series colour."""
    x0, x1, y0, y1 = box
    fig.add_shape(type="rect", xref="paper", yref="paper", x0=px(x0), x1=px(x1),
                  y0=py(y1), y1=py(y0), line=dict(color="black", width=4), fillcolor="white")
    for row, color, name in zip(rows, colors, names):
        fig.add_shape(type="line", xref="paper", yref="paper", x0=px(line_x[0]), x1=px(line_x[1]),
                      y0=py(row), y1=py(row), line=dict(color=color, width=width))
        fig.add_annotation(xref="paper", yref="paper", x=px(text_x), y=py(row), text=name,
                           showarrow=False, xanchor="left", yanchor="middle",
                           font=dict(family=SANS, size=50, color=color))


def add_label(fig, x, y, text, size=64, family=SANS, angle=0):
    fig.add_annotation(xref="paper", yref="paper", x=px(x), y=py(y), text=text, showarrow=False,
                       xanchor="center", yanchor="middle", textangle=angle,
                       font=dict(family=family, size=size, color="black"))


def create_plot():
    fig = go.Figure()
    colors3 = [BLUE, BLACK, RED]

    add_lines(fig, [A_GOOD_X, A_HIGH_X, A_LOW_X], [A_GOOD_Y, A_HIGH_Y, A_LOW_Y], colors3, 9, "x", "y")
    add_lines(fig,
              [B_GOOD_EARLY_X + INSET_GOOD_X + B_LATE_X,
               B_HIGH_EARLY_X + INSET_HIGH_X + B_LATE_X,
               B_LOW_EARLY_X + INSET_LOW_X + B_LATE_X],
              [B_GOOD_EARLY_Y + INSET_GOOD_Y + B_GOOD_LATE_Y,
               B_HIGH_EARLY_Y + INSET_HIGH_Y + B_HIGH_LATE_Y,
               B_LOW_EARLY_Y + INSET_LOW_Y + B_LOW_LATE_Y], colors3, 7, "x2", "y2")
    add_lines(fig, [C_GOOD_X, C_HIGH_X, C_LOW_X], [C_GOOD_Y, C_HIGH_Y, C_LOW_Y], colors3, 5.5, "x3", "y3")
    add_lines(fig, [D_GOOD_X, D_HIGH_X], [D_GOOD_Y, D_HIGH_Y], [BLUE, BLACK], 7, "x4", "y4")
    # blank white panel behind the inset, so the grid of (b) does not show through
    fig.add_trace(go.Scatter(x=[], y=[], xaxis="x5", yaxis="y5", showlegend=False))
    add_lines(fig, [INSET_GOOD_X, INSET_HIGH_X, INSET_LOW_X], [INSET_GOOD_Y, INSET_HIGH_Y, INSET_LOW_Y],
              colors3, 4, "x6", "y6")

    xd_left = [px(333), px(1642)]
    xd_right = [px(2515), px(3824)]
    xdash, ydash = "8px,4px", "10px,5px"

    fig.update_layout(
        width=W, height=H, margin=dict(l=0, r=0, t=0, b=0),
        paper_bgcolor="white", plot_bgcolor="white", showlegend=False,
        font=dict(family=SANS, color="black"),
        xaxis=frame_axis(xd_left, [-0.52, 20], X_TICKS, X_TEXT, 1, 48, "y", xdash),
        yaxis=frame_axis([py(1340), py(30)], [0.3, 1.3], A_Y_TICKS, A_Y_TEXT, 0.05, 46, "x", ydash),
        xaxis2=frame_axis(xd_right, [-0.52, 20], X_TICKS, X_TEXT, 1, 48, "y2", xdash),
        yaxis2=frame_axis([py(1356), py(49)], [-0.4, 1.2], B_Y_TICKS, B_Y_TEXT, 0.05, 64, "x2", ydash),
        xaxis3=frame_axis(xd_left, [-0.52, 20], X_TICKS, X_TEXT, 1, 48, "y3", xdash),
        yaxis3=frame_axis([py(3042), py(1738)], [-70, 0], C_Y_TICKS, C_Y_TEXT, 2, 46, "x3", ydash),
        xaxis4=frame_axis(xd_right, [6, 10], D_X_TICKS, D_X_TEXT, 0.1, 48, "y4", xdash),
        yaxis4=frame_axis([py(3046), py(1738)], [-70, -10], D_Y_TICKS, D_Y_TEXT, 2, 46, "x4", ydash),
        xaxis5=dict(domain=[px(2987), px(3654)], anchor="y5", visible=False, range=[0, 1]),
        yaxis5=dict(domain=[py(895), py(301)], anchor="x5", visible=False, range=[0, 1]),
        xaxis6=frame_axis([px(3092), px(3613)], [5, 9], INSET_X_TICKS, INSET_X_TEXT, 0.1, 18, "y6",
                          "solid", size=24),
        yaxis6=frame_axis([py(843), py(324)], [-0.06, 0.06], INSET_Y_TICKS, INSET_Y_TEXT, 0.005, 22, "x6",
                          "solid", size=24),
    )

    # inset frame, zoom window and arrow
    fig.add_shape(type="rect", xref="paper", yref="paper", x0=px(2987), x1=px(3654),
                  y0=py(895), y1=py(301), line=dict(color=CYAN, width=4))
    bx0, bx1, by0, by1 = B_ZOOM_BOX
    fig.add_shape(type="rect", xref="x2", yref="y2", x0=bx0, x1=bx1, y0=by0, y1=by1,
                  line=dict(color=CYAN, width=4))
    fig.add_annotation(xref="paper", yref="paper", x=px(3133), y=py(915), ax=-118, ay=38,
                       text="", showarrow=True, arrowhead=2, arrowsize=1.4, arrowwidth=4,
                       arrowcolor=CYAN)

    add_legend(fig, (355, 1133, 62, 267), (381, 510), 523, [114, 169, 223], colors3, NAMES, 5)
    add_legend(fig, (3029, 3809, 73, 280), (3056, 3183), 3199, [125, 180, 234], colors3, NAMES, 5)
    add_legend(fig, (845, 1623, 1762, 1967), (875, 1000), 1015, [1814, 1869, 1923], colors3, NAMES, 3)
    add_legend(fig, (3028, 3804, 1762, 1967), (3056, 3180), 3195, [1812, 1921], [BLUE, BLACK], NAMES[:2], 5)

    add_label(fig, 49, 686, "Magnitude", angle=-90)
    add_label(fig, 991, 1534, "Distance (m)")
    add_label(fig, 997, 1634, "(<b>a</b>) Step response", size=90, family=SERIF)
    add_label(fig, 2234, 703, "Magnitude", angle=-90)
    add_label(fig, 3174, 1549, "Distance (m)")
    add_label(fig, 3028, 1656, "(<b>b</b>) Impulse response", size=90, family=SERIF)
    add_label(fig, 49, 2386, "Magnitude (dB)", angle=-90)
    add_label(fig, 991, 3236, "Distance (m)")
    add_label(fig, 991, 3340, "(<b>c</b>) Magnitude (dB)", size=90, family=SERIF)
    add_label(fig, 2234, 2386, "Magnitude (dB)", angle=-90)
    add_label(fig, 3174, 3236, "Distance (m)")
    add_label(fig, 3028, 3340, "(<b>d</b>) Magnitude (dB) zoomed in", size=90, family=SERIF)
    return fig


if __name__ == "__main__":
    fig = create_plot()
    # drop the default page margin so the figure sits flush in the window
    fig.write_html("out.html", config={"displayModeBar": False},
                   post_script="document.body.style.margin='0';")
